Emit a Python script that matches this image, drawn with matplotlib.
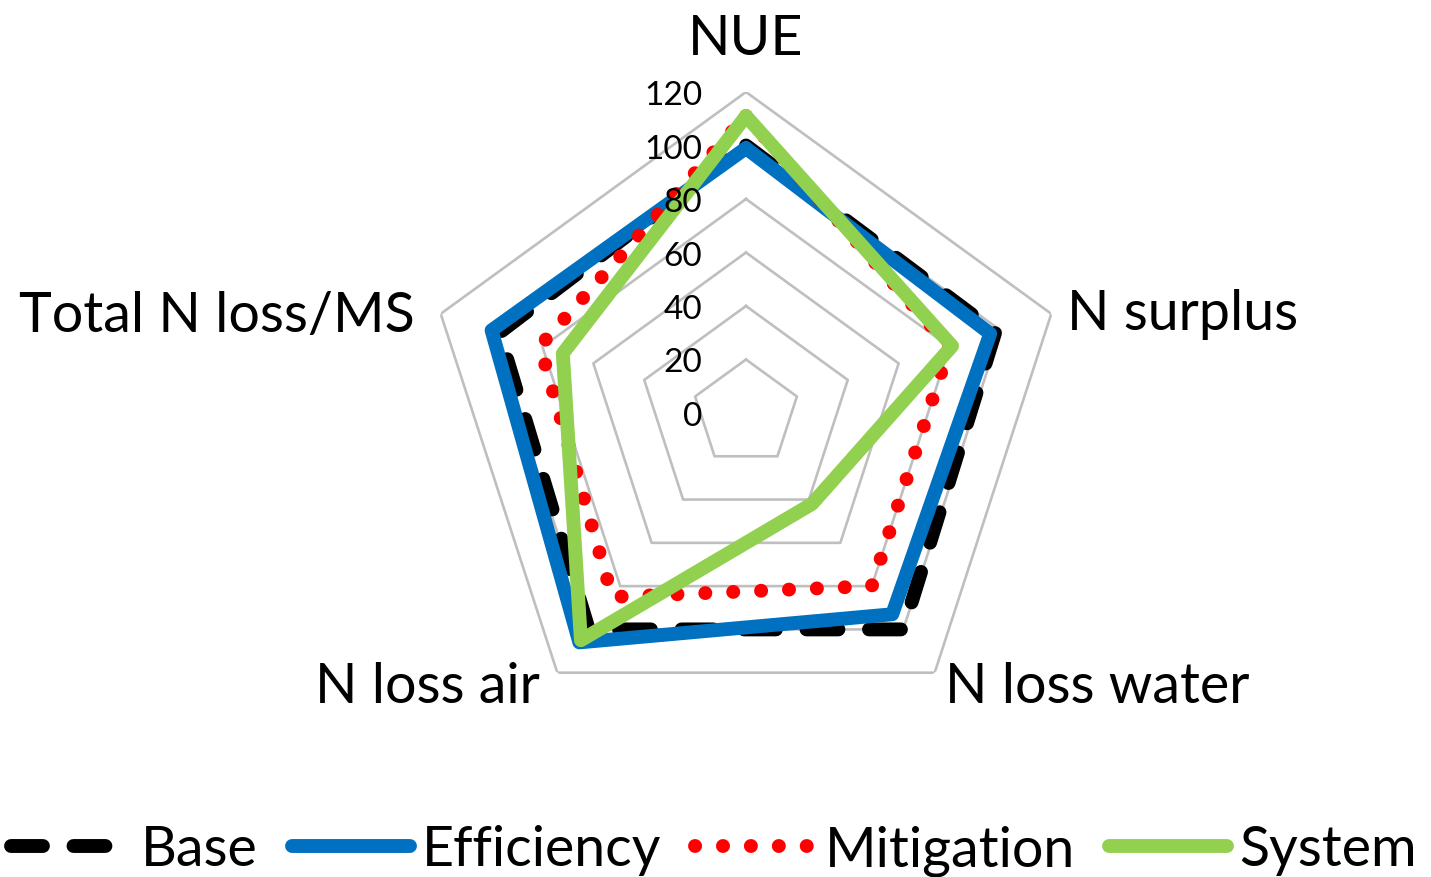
import numpy as np
import matplotlib
matplotlib.use("Agg")
import matplotlib.pyplot as plt

# ---- data ----
categories = ["NUE", "N surplus", "N loss water", "N loss air", "Total N loss/MS"]
base = [100, 98, 100, 100, 97]
efficiency = [99, 96, 93, 106, 100]
mitigation = [111, 80, 80, 85, 81]
system = [111, 81, 42, 105, 72]
series_names = ["Base", "Efficiency", "Mitigation", "System"]
tick_values = [0, 20, 40, 60, 80, 100, 120]
tick_labels = ["0", "20", "40", "60", "80", "100", "120"]

plt.rcParams['font.family'] = ['Lato', 'DejaVu Sans']

W, H = 1431, 878
fig = plt.figure(figsize=(W / 100, H / 100), dpi=100)
cx, cy, R = 746, 414, 321
ax = fig.add_axes([(cx - R) / W, (H - cy - R) / H, 2 * R / W, 2 * R / H], projection='polar')
ax.set_theta_offset(np.pi / 2)
ax.set_theta_direction(-1)
ax.set_ylim(0, 120)
ax.grid(False)
ax.spines['polar'].set_visible(False)
ax.set_xticks([])
ax.set_yticks([])
ax.patch.set_visible(False)

n = len(categories)
theta = np.arange(n) * 2 * np.pi / n
theta_c = np.append(theta, theta[0])

def closed(v):
    return np.append(v, v[0])

# pentagon gridlines
for lv in tick_values[1:]:
    ax.plot(theta_c, [lv] * (n + 1), color='#BFBFBF', lw=1.9, zorder=1)

lw = 10
styles = [
    dict(color='black', ls=(0, (2.3, 2.2)), dash_capstyle='round'),
    dict(color='#0070C0', ls='-', solid_capstyle='round'),
    dict(color='#FF0000', ls=(0, (0.01, 2.0)), dash_capstyle='round'),
    dict(color='#92D050', ls='-', solid_capstyle='round'),
]
handles = []
for name, vals, st in zip(series_names, [base, efficiency, mitigation, system], styles):
    h, = ax.plot(theta_c, closed(vals), lw=lw, label=name, zorder=3, **st)
    handles.append(h)

# radial tick labels
for v, lab in zip(tick_values, tick_labels):
    ax.annotate(lab, xy=(0, v), xytext=(-44, -3), textcoords='offset pixels',
                ha='right', va='center', fontsize=24, annotation_clip=False)

# category labels
offsets = [((0, 38), 'center'), ((16, -15), 'left'), ((10, -29), 'left'),
           ((-17, -29), 'right'), ((-26, -17), 'right')]
for t, cat, (off, ha) in zip(theta, categories, offsets):
    ax.annotate(cat, xy=(t, 120), xytext=off, textcoords='offset pixels',
                ha=ha, va='baseline', fontsize=40, annotation_clip=False)

fs = 40
em = fs * 100 / 72
fig.legend(handles, series_names, loc='center', bbox_to_anchor=(0.499, 1 - 851 / H),
           ncol=4, frameon=False, fontsize=fs, handlelength=118 / em,
           handletextpad=12 / em, columnspacing=34 / em, borderpad=0, borderaxespad=0)

fig.savefig("out.png", dpi=100)
